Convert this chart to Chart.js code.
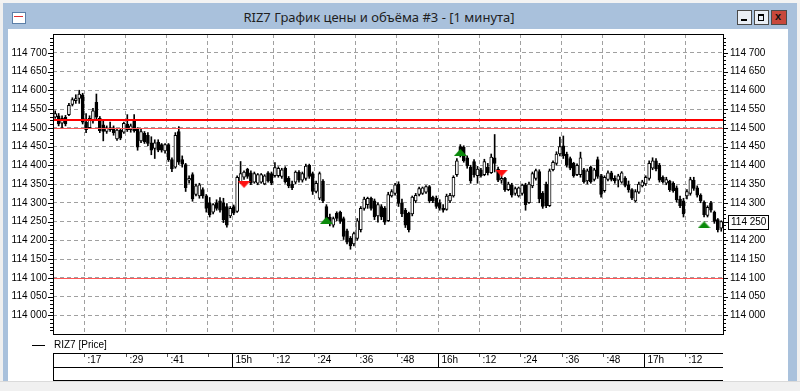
<!DOCTYPE html>
<html><head><meta charset="utf-8">
<script src="https://cdn.jsdelivr.net/npm/chart.js@4.4.0/dist/chart.umd.min.js"></script>
<style>
html,body{margin:0;padding:0;width:800px;height:391px;overflow:hidden;background:#f0f0f0;font-family:"Liberation Sans",Arial,sans-serif;}
#topstrip{position:absolute;left:0;top:0;width:800px;height:3px;background:#f3f3f3;}
#frame{position:absolute;left:3px;top:3px;width:794px;height:388px;background:#a9c1dc;}
#client{position:absolute;left:8px;top:29px;width:780px;height:352px;background:#fff;}
#bottomstrip{position:absolute;left:0;top:381px;width:800px;height:10px;background:#f0f0f0;border-top:1px solid #dadada;}
#title{position:absolute;left:0;top:8px;width:758px;text-align:center;font-family:"Noto Sans",sans-serif;font-size:13px;color:#1e1e1e;line-height:18px;}
#icon{position:absolute;left:12px;top:12px;width:12px;height:10px;border:1px solid #5b7fa8;background:#fff;}
#icon:after{content:"";position:absolute;left:1px;top:3px;width:9px;height:1px;background:#e03030;}
.btn{position:absolute;top:10px;width:13px;height:13px;border:1px solid #4a4a4a;background:#e9eef5;}
#bmin{left:737px;}#bmax{left:754px;}#bclose{left:771px;background:#c8483c;width:14px;}
#bmin:after{content:"";position:absolute;left:3px;top:8px;width:6px;height:2px;background:#000;}
#bmax:after{content:"";position:absolute;left:3px;top:3px;width:4px;height:4px;border:1px solid #000;border-top-width:2px;}
#bclose span{position:absolute;left:3px;top:-1px;font:bold 11px "Liberation Sans";color:#111;}
#c{position:absolute;left:0;top:0;z-index:5;}
</style></head>
<body>
<div id="topstrip"></div>
<div id="frame"></div>
<div id="client"></div>
<div id="bottomstrip"></div>
<div id="icon"></div>
<div id="title">RIZ7 График цены и объёма #3 - [1 минута]</div>
<div class="btn" id="bmin"></div><div class="btn" id="bmax"></div><div class="btn" id="bclose"><span>x</span></div>
<canvas id="c" width="800" height="391"></canvas>
<script>
// ---- data (1-minute candles, first candle 14:08) ----
const firstMinute = 8; // minutes after 14:00
const opens = [114528,114532,114512,114528,114535,114562,114572,114578,114588,114515,114500,114518,114568,114525,114508,114490,114500,114500,114470,114494,114488,114510,114495,114520,114498,114465,114485,114480,114460,114445,
114462,114455,114438,114455,114415,114395,114490,114415,114402,114360,114375,114322,114318,114335,114318,114300,114275,114300,114305,114300,
114290,114265,114290,114277,114356,114368,114389,114380,114355,114352,114355,114350,114380,114378,114372,114372,114370,114392,114365,114350,
114355,114382,114360,114365,114400,114378,114330,114312,114358,114290,114262,114240,114272,114275,114258,114225,114205,114190,114205,114228,
114285,114295,114312,114305,114265,114290,114285,114252,114318,114325,114350,
114300,114280,114272,114270,114305,114322,114325,114328,114343,114315,114312,114300,114285,114282,114305,114318,114375,114450,114448,114420,
114395,114410,114372,114388,114375,114395,114380,114420,114390,114360,114365,114335,114348,114325,114318,114325,114348,114300,114345,114365,
114383,114325,114350,114292,114388,114405,114430,114452,114430,114418,114405,114375,114375,114388,114358,114395,114362,114415,
114372,114332,114362,114380,114365,114360,114355,114366,114348,114335,114305,114328,114345,114350,114365,114392,114412,114400,114368,114352,
114358,114352,114340,114310,114305,114318,114325,114360,114340,114320,114302,114266,114300,114275,114255,114232];
const highs = [114545,114538,114532,114533,114565,114580,114588,114600,114592,114538,114532,114552,114590,114530,114522,114505,114515,114505,114497,114498,114515,114535,114510,114535,114500,114498,114490,114487,114476,114468,
114468,114458,114458,114458,114420,114487,114503,114425,114405,114372,114380,114350,114352,114340,114322,114314,114298,114308,114314,114312,
114298,114290,114294,114372,114410,114385,114392,114385,114382,114378,114378,114375,114383,114382,114407,114396,114392,114396,114370,114358,
114385,114386,114382,114403,114403,114382,114358,114382,114362,114295,114270,114262,114276,114278,114262,114230,114210,114222,114258,114290,
114315,114315,114315,114310,114300,114295,114290,114328,114335,114352,114356,
114310,114285,114275,114318,114325,114342,114342,114346,114346,114318,114318,114308,114295,114323,114325,114372,114418,114455,114452,114425,
114400,114415,114397,114392,114416,114405,114430,114482,114395,114372,114368,114355,114352,114342,114342,114350,114352,114355,114382,114390,
114388,114330,114355,114390,114412,114436,114475,114478,114435,114422,114408,114404,114435,114392,114390,114398,114392,114422,
114376,114372,114385,114384,114372,114376,114383,114370,114358,114338,114335,114355,114360,114372,114412,114420,114418,114405,114372,114368,
114360,114356,114345,114318,114312,114335,114368,114368,114345,114324,114305,114292,114304,114278,114258,114252];
const lows = [114525,114505,114498,114505,114532,114558,114565,114565,114510,114487,114498,114512,114520,114487,114465,114485,114490,114480,114466,114468,114485,114490,114488,114488,114440,114460,114458,114452,114428,114418,
114436,114435,114432,114410,114383,114392,114402,114395,114330,114352,114304,114318,114312,114312,114275,114262,114270,114280,114275,114247,
114235,114260,114268,114274,114352,114362,114365,114348,114352,114348,114352,114348,114355,114348,114368,114368,114365,114352,114340,114335,
114350,114355,114355,114360,114365,114322,114326,114308,114300,114245,114238,114235,114252,114245,114202,114190,114176,114185,114200,114222,
114280,114285,114280,114255,114248,114255,114242,114250,114315,114320,114290,
114263,114234,114222,114265,114300,114318,114322,114325,114300,114300,114285,114280,114275,114280,114300,114315,114370,114422,114408,114392,
114352,114368,114352,114368,114372,114374,114378,114382,114356,114352,114330,114332,114315,114320,114315,114320,114280,114298,114340,114360,
114300,114285,114287,114290,114385,114400,114425,114418,114395,114388,114368,114372,114368,114352,114350,114352,114358,114365,
114315,114328,114358,114358,114352,114342,114352,114342,114328,114308,114302,114325,114342,114346,114360,114388,114385,114355,114352,114348,
114330,114328,114302,114287,114262,114310,114320,114333,114315,114300,114262,114262,114275,114245,114222,114224];
const closes = [114538,114510,114525,114510,114560,114575,114578,114590,114515,114495,114525,114545,114528,114492,114490,114500,114495,114487,114494,114472,114512,114495,114505,114492,114448,114490,114462,114458,114440,114460,
114440,114440,114455,114415,114390,114480,114408,114403,114340,114365,114310,114345,114348,114318,114285,114268,114295,114285,114280,114255,
114240,114285,114272,114368,114378,114382,114370,114352,114378,114375,114375,114372,114358,114352,114394,114392,114388,114356,114345,114340,
114382,114360,114378,114398,114370,114330,114352,114378,114305,114255,114245,114258,114258,114250,114210,114195,114185,114218,114252,114285,
114310,114312,114285,114262,114295,114262,114248,114322,114330,114348,114298,
114270,114240,114228,114315,114320,114338,114340,114343,114305,114305,114290,114285,114280,114318,114320,114368,114412,114428,114412,114398,
114358,114375,114390,114372,114410,114380,114422,114405,114360,114365,114335,114350,114320,114338,114340,114347,114295,114350,114378,114386,
114310,114290,114292,114385,114408,114430,114450,114425,114400,114392,114372,114400,114420,114356,114385,114356,114388,114370,
114322,114368,114380,114362,114358,114372,114380,114346,114335,114312,114330,114350,114356,114368,114405,114412,114390,114360,114356,114362,
114335,114332,114308,114292,114270,114330,114362,114338,114320,114305,114268,114288,114280,114250,114228,114250];
// signal markers (candle index, price)
const sellSignalIdx = [55, 130];
const sellSignalPrice = [114349, 114379];
const buySignalIdx = [79, 118, 189];
const buySignalPrice = [114253, 114434, 114241];
// horizontal levels
const levelValues = [114522, 114500, 114100];
// axes
const yTickValues = [114000,114050,114100,114150,114200,114250,114300,114350,114400,114450,114500,114550,114600,114650,114700];
const xTickMinutes = [17,29,41,53,60,72,84,96,108,120,132,144,156,168,180,192];
const xTickLabels = [":17",":29",":41","","15h",":12",":24",":36",":48","16h",":12",":24",":36",":48","17h",":12"];
const seriesName = "RIZ7 [Price]";

const FONT = '"Liberation Sans", Arial, sans-serif';
const t = i => firstMinute + i + 0.5;
const wickData = lows.map((l,i)=>({x:t(i), y:[l, highs[i]]}));
const bodyData = opens.map((o,i)=>({x:t(i), y:[o, closes[i]]}));
const bodyColors = opens.map((o,i)=> closes[i] >= o ? '#ffffff' : '#000000');

function triangle(color, down){
  const c = document.createElement('canvas'); c.width=13; c.height=7;
  const g = c.getContext('2d'); g.fillStyle=color; g.beginPath();
  if(down){ g.moveTo(0,0); g.lineTo(13,0); g.lineTo(6.5,7);} else { g.moveTo(0,7); g.lineTo(13,7); g.lineTo(6.5,0);}
  g.closePath(); g.fill(); return c;
}
const fmt = v => String(v).replace(/(\d{3})(\d{3})$/, '$1 $2');

const overlay = {
  id:'overlay',
  afterDatasetsDraw(chart){
    const ctx = chart.ctx, a = chart.chartArea, y = chart.scales.y, x = chart.scales.x;
    ctx.save();
    const lw = [2,1,1], lc = ['#ff0000','#ff5555','#ff5555'];
    levelValues.forEach((v,k)=>{
      const py = Math.round(y.getPixelForValue(v));
      ctx.fillStyle = lc[k]; ctx.fillRect(a.left, py - (lw[k]>1?1:0), a.right-a.left, lw[k]);
    });
    ctx.strokeStyle='#000'; ctx.lineWidth=1;
    ctx.strokeRect(Math.round(a.left)+0.5, Math.round(a.top)+0.5, Math.round(a.right-a.left), Math.round(a.bottom-a.top));
    ctx.beginPath();
    for(let v=113960; v<=114740; v+=10){
      const py = Math.round(y.getPixelForValue(v))+0.5;
      const len = (v%50===0)?5:3;
      ctx.moveTo(a.left-len, py); ctx.lineTo(a.left, py);
      ctx.moveTo(a.right, py); ctx.lineTo(a.right+len, py);
    }
    ctx.stroke();
    const last = closes[closes.length-1];
    const py = Math.round(y.getPixelForValue(last));
    ctx.fillStyle='#fff'; ctx.fillRect(a.right+5, py-7, 40, 14);
    ctx.strokeRect(a.right+5.5, py-6.5, 40, 14);
    ctx.fillStyle='#000'; ctx.font='10px '+FONT; ctx.textBaseline='middle'; ctx.textAlign='left';
    ctx.fillText(fmt(last), a.right+8, py+0.5);
    ctx.beginPath(); ctx.moveTo(32,345.5); ctx.lineTo(45,345.5); ctx.stroke();
    ctx.fillText(seriesName, 54, 345.5);
    ctx.beginPath();
    ctx.moveTo(a.left, 353.5); ctx.lineTo(a.right, 353.5);
    ctx.moveTo(a.left, 367.5); ctx.lineTo(a.right, 367.5);
    ctx.moveTo(a.left, 380.5); ctx.lineTo(a.right, 380.5);
    ctx.moveTo(a.left+0.5, 353); ctx.lineTo(a.left+0.5, 381);
    ctx.stroke();
    xTickMinutes.forEach((m,k)=>{
      const px = Math.round(x.getPixelForValue(m))+0.5;
      const lab = xTickLabels[k];
      ctx.beginPath();
      if(/h$/.test(lab)){ ctx.strokeStyle='#000'; ctx.moveTo(px,353); ctx.lineTo(px,367); }
      else { ctx.strokeStyle='#555'; ctx.moveTo(px,354); ctx.lineTo(px,357); }
      ctx.stroke();
      ctx.fillStyle='#000';
      ctx.fillText(lab, px+3, 360.5);
    });
    ctx.restore();
  }
};

const yCommon = {
  min:113950, max:114750,
  afterBuildTicks: s => { s.ticks = yTickValues.map(v=>({value:v})); },
  border:{display:false, dash:[4,3]},
  ticks:{color:'#000', font:{family:FONT, size:10}, callback:v=>fmt(v)}
};

new Chart(document.getElementById('c'), {
  type:'bar',
  data:{datasets:[
    {type:'scatter', data:sellSignalIdx.map((i,k)=>({x:t(i), y:sellSignalPrice[k]})), pointStyle:triangle('#ff1010',true), order:-2},
    {type:'scatter', data:buySignalIdx.map((i,k)=>({x:t(i), y:buySignalPrice[k]})), pointStyle:triangle('#0b8a0b',false), order:-1},
    {data:bodyData, backgroundColor:bodyColors, borderColor:'#000', borderWidth:1, barThickness:3, grouped:false, order:0, borderSkipped:false},
    {data:wickData, backgroundColor:'#000', borderWidth:0, barThickness:1, grouped:false, order:1}
  ]},
  options:{
    responsive:false, animation:false, events:[],
    layout:{padding:{left:0,right:0,top:34,bottom:57}},
    plugins:{legend:{display:false}, tooltip:{enabled:false}},
    scales:{
      x:{type:'linear', min:7.86, max:203.01, position:'bottom', offset:false,
         afterBuildTicks: s => { s.ticks = xTickMinutes.map(v=>({value:v})); },
         afterFit: s => { s.height = 0; },
         ticks:{display:false},
         border:{display:false, dash:[4,3]},
         grid:{color:'#a0a0a0', lineWidth:1, drawTicks:false, offset:false}},
      y: Object.assign({}, yCommon, {position:'left', afterFit: s=>{s.width=53;},
         grid:{color:'#a0a0a0', lineWidth:1, drawTicks:false},
         ticks:Object.assign({}, yCommon.ticks, {padding:6})}),
      y2: Object.assign({}, yCommon, {position:'right', afterFit: s=>{s.width=77;},
         grid:{display:false, drawTicks:false},
         ticks:Object.assign({}, yCommon.ticks, {padding:7})})
    }
  },
  plugins:[overlay]
});
</script>
</body></html>
